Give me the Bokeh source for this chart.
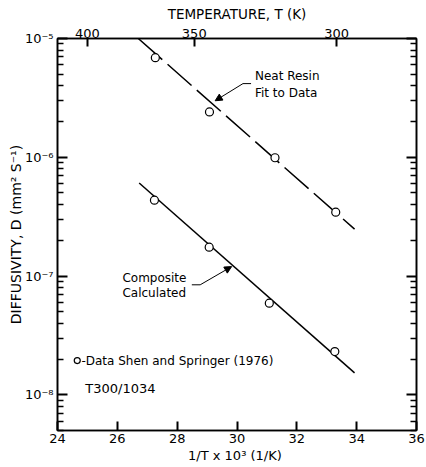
from bokeh.plotting import figure
from bokeh.models import (LinearAxis, LogAxis, FixedTicker, CustomJSTickFormatter,
                          Arrow, NormalHead)
from bokeh.core.properties import value
from bokeh.embed import file_html
from bokeh.resources import INLINE

# ---- data ----
inv_T_neat = [2.727, 2.908, 3.127, 3.330]
D_neat = [6.9e-6, 2.41e-6, 9.9e-7, 3.45e-7]
inv_T_comp = [2.724, 2.907, 3.108, 3.327]
D_comp = [4.35e-7, 1.75e-7, 5.9e-8, 2.31e-8]
fit_neat_x = [2.670, 3.393]
fit_neat_D = [1.0e-5, 2.48e-7]
fit_comp_x = [2.673, 3.393]
fit_comp_D = [6.07e-7, 1.53e-8]
x_ticks = [2.4, 2.6, 2.8, 3.0, 3.2, 3.4, 3.6]
temp_ticks = [400, 350, 300]
y_ticks = [1e-8, 1e-7, 1e-6, 1e-5]
y_minor = [k * 10.0 ** e for e in range(-9, -5) for k in range(2, 10)]

FONT = "DejaVu Sans"
X0, X1 = 2.4, 3.6
Y0, Y1 = 5e-9, 1e-5

p = figure(width=426, height=467, x_range=(X0, X1), y_range=(Y0, Y1),
           y_axis_type="log", output_backend="svg", toolbar_location=None,
           title=None, min_border_left=57, min_border_right=10,
           min_border_top=38, min_border_bottom=37)
p.grid.visible = False
p.outline_line_color = "black"
p.outline_line_width = 1.5


def style_axis(ax, major_in, minor_in, lab_size="13px", title_size="13px"):
    ax.major_tick_in = major_in
    ax.major_tick_out = 0
    ax.minor_tick_in = minor_in
    ax.minor_tick_out = 0
    ax.major_tick_line_color = "black"
    ax.minor_tick_line_color = "black"
    ax.major_tick_line_width = 2
    ax.minor_tick_line_width = 1.6
    ax.axis_line_color = "black"
    ax.axis_line_width = 1.6
    ax.major_label_text_font = FONT
    ax.major_label_text_font_size = lab_size
    ax.major_label_text_color = "black"
    ax.axis_label_text_font = FONT
    ax.axis_label_text_font_size = title_size
    ax.axis_label_text_font_style = "normal"
    ax.axis_label_text_color = "black"


# bottom axis
xa = p.xaxis[0]
xa.ticker = FixedTicker(ticks=x_ticks)
xa.formatter = CustomJSTickFormatter(code="return (tick*10).toFixed(0);")
xa.axis_label = "1/T x 10³  (1/K)"
style_axis(xa, 9, 0, "13px", "13px")
xa.major_label_standoff = 3
xa.axis_label_standoff = 2

# left axis
ya = p.yaxis[0]
ya.ticker = FixedTicker(ticks=y_ticks, minor_ticks=y_minor)
ya.formatter = CustomJSTickFormatter(code="""
const e = Math.round(Math.log10(tick));
const sup = {"-":"\u207b","0":"\u2070","1":"\u00b9","2":"\u00b2","3":"\u00b3","4":"\u2074",
             "5":"\u2075","6":"\u2076","7":"\u2077","8":"\u2078","9":"\u2079"};
return "10" + String(e).split("").map(c => sup[c]).join("");
""")
ya.axis_label = "DIFFUSIVITY, D (mm² S⁻¹)"
style_axis(ya, 10, 6, "13px", "14px")
ya.major_label_standoff = 4
ya.axis_label_standoff = -2

# right axis (ticks only)
ra = LogAxis(ticker=FixedTicker(ticks=y_ticks, minor_ticks=y_minor))
style_axis(ra, 10, 6, "1px", "1px")
ra.major_label_text_alpha = 0
ra.major_label_standoff = 0
p.add_layout(ra, "right")

# top axis: temperature
temp_pos = [1000.0 / t for t in temp_ticks]
ta = LinearAxis(ticker=FixedTicker(ticks=temp_pos),
                formatter=CustomJSTickFormatter(code="return (1000/tick).toFixed(0);"))
ta.axis_label = "TEMPERATURE, T (K)"
style_axis(ta, 8, 0, "13px", "13.5px")
ta.major_label_standoff = 1
ta.axis_label_standoff = 4
p.add_layout(ta, "above")

# fit lines
p.line(fit_neat_x, fit_neat_D, line_color="black", line_width=1.5, line_dash="32 7")
p.line(fit_comp_x, fit_comp_D, line_color="black", line_width=1.5)

# data points
p.scatter(inv_T_neat, D_neat, marker="circle", size=8, fill_color="white",
          line_color="black", line_width=1.2)
p.scatter(inv_T_comp, D_comp, marker="circle", size=8, fill_color="white",
          line_color="black", line_width=1.2)

# annotations
txt = dict(text_font=value(FONT), text_font_size="12px", text_baseline="middle",
           text_align="left", text_color="black")
p.text(x=[3.06, 3.06], y=[4.8e-6, 3.5e-6], text=["Neat Resin", "Fit to Data"], **txt)
p.text(x=[2.617, 2.617], y=[9.55e-8, 7.13e-8], text=["Composite", "Calculated"], **txt)

# leader lines with arrows
p.line([3.047, 3.02], [4.17e-6, 4.17e-6], line_color="black", line_width=1)
p.add_layout(Arrow(end=NormalHead(size=7, fill_color="black", line_color="black"),
                   x_start=3.02, y_start=4.17e-6, x_end=2.927, y_end=2.99e-6,
                   line_color="black", line_width=1))
p.line([2.849, 2.877], [8.43e-8, 8.43e-8], line_color="black", line_width=1)
p.add_layout(Arrow(end=NormalHead(size=7, fill_color="black", line_color="black"),
                   x_start=2.877, y_start=8.43e-8, x_end=2.982, y_end=1.2e-7,
                   line_color="black", line_width=1))

# legend note
p.scatter([2.466], [1.94e-8], marker="circle", size=6, fill_color="white",
          line_color="black", line_width=1.2)
p.text(x=[2.48], y=[1.94e-8], text=["-Data Shen and Springer (1976)"], **txt)
p.text(x=[2.493], y=[1.13e-8], text=["T300/1034"],
       text_font=value(FONT), text_font_size="13px", text_baseline="middle",
       text_align="left", text_color="black")

open("out.html", "w").write(file_html(p, INLINE))
